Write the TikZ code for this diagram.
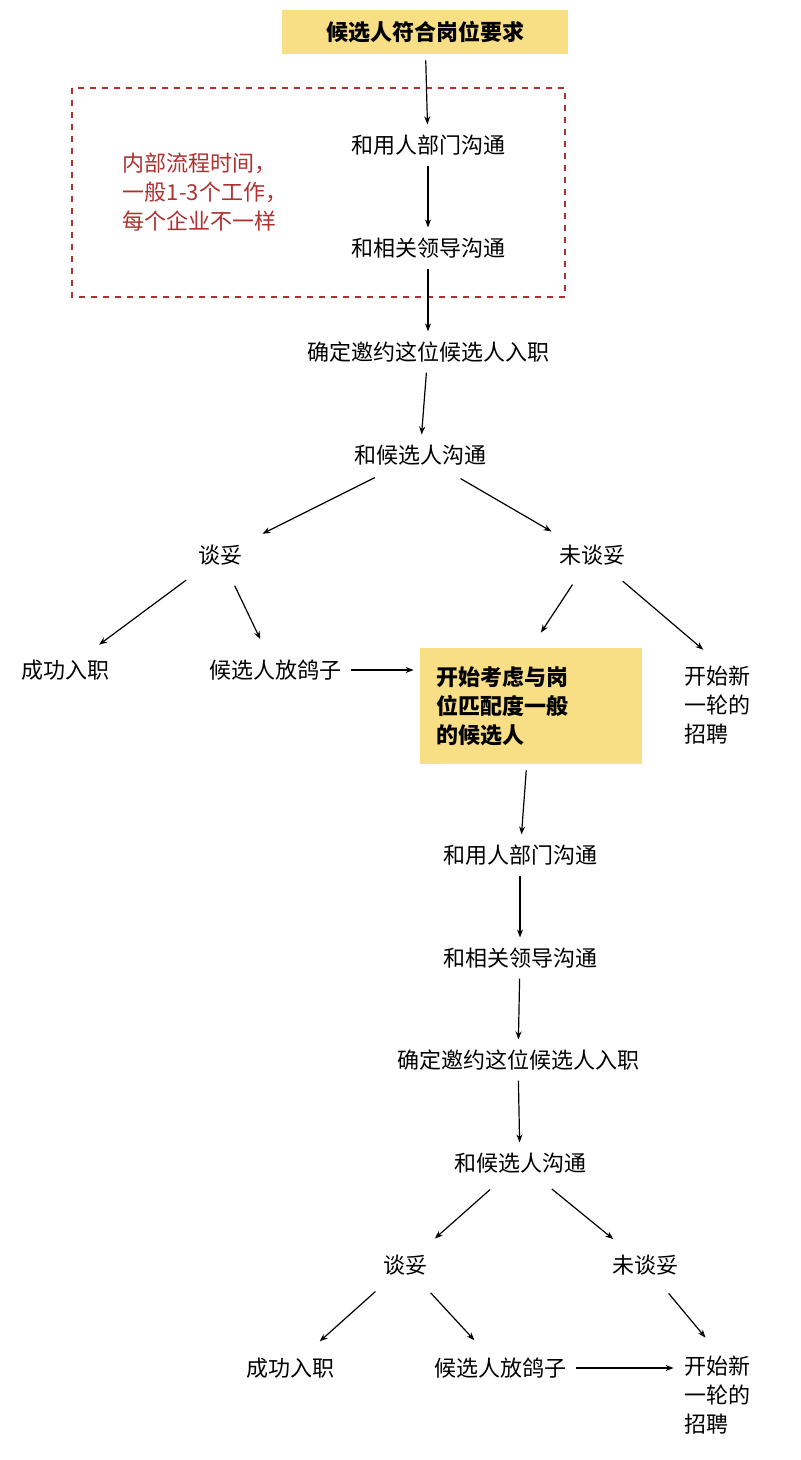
\documentclass[tikz,border=0pt]{standalone}
\usepackage{fontspec}
\setmainfont{Noto Sans CJK SC}
\usetikzlibrary{arrows.meta}
\definecolor{hilite}{HTML}{F8DE85}
\definecolor{notered}{HTML}{B03030}
\begin{document}
\begin{tikzpicture}[
    x=0.5pt, y=-0.5pt,
    every node/.style={font=\fontsize{11}{14.5}\selectfont, inner sep=2pt},
    keybox/.style={fill=hilite, font=\fontsize{11}{14.5}\selectfont\bfseries},
    arr/.style={-{Stealth[length=4pt]}, semithick, shorten <=3pt, shorten >=3pt},
    darr/.style={-{Stealth[length=4pt]}, semithick, shorten <=9pt, shorten >=9pt}
  ]
  \useasboundingbox (0,0) rectangle (800,1460);

  % Internal process frame
  \draw[notered, dashed, semithick] (72,88) rectangle (565,297);
  \node[notered, align=left] (note) at (205,192) {内部流程时间，\\一般1-3个工作，\\每个企业不一样};

  % First round
  \node[keybox, minimum width=143pt, minimum height=22pt] (start) at (425,32) {候选人符合岗位要求};
  \node (deptA) at (428,145) {和用人部门沟通};
  \node (leadA) at (428,248) {和相关领导沟通};
  \node (offerA) at (428,352) {确定邀约这位候选人入职};
  \node (talkA) at (420,455) {和候选人沟通};
  \node (okA) at (220,555) {谈妥};
  \node (failA) at (592,555) {未谈妥};
  \node (joinA) at (65,670) {成功入职};
  \node (flakeA) at (275,670) {候选人放鸽子};
  \node[keybox, align=left, minimum width=111pt, minimum height=58pt, text width=95pt] (backup) at (531,706) {开始考虑与岗\\位匹配度一般\\的候选人};
  \node[align=left] (newA) at (717,705) {开始新\\一轮的\\招聘};

  % Second round
  \node (deptB) at (520,855) {和用人部门沟通};
  \node (leadB) at (520,958) {和相关领导沟通};
  \node (offerB) at (518,1060) {确定邀约这位候选人入职};
  \node (talkB) at (520,1163) {和候选人沟通};
  \node (okB) at (405,1265) {谈妥};
  \node (failB) at (645,1265) {未谈妥};
  \node (joinB) at (290,1368) {成功入职};
  \node (flakeB) at (500,1368) {候选人放鸽子};
  \node[align=left] (newB) at (717,1395) {开始新\\一轮的\\招聘};

  % Arrows
  \draw[arr] (start) -- (deptA);
  \draw[arr] (deptA) -- (leadA);
  \draw[arr] (leadA) -- (offerA);
  \draw[arr] (offerA) -- (talkA);
  \draw[darr] (talkA) -- (okA);
  \draw[darr] (talkA) -- (failA);
  \draw[darr] (okA) -- (joinA);
  \draw[darr] (okA) -- (flakeA);
  \draw[darr] (failA) -- (backup.north);
  \draw[darr] (failA) -- (newA.north);
  \draw[arr] (flakeA) -- (backup.west |- flakeA);
  \draw[arr] (backup) -- (deptB);
  \draw[arr] (deptB) -- (leadB);
  \draw[arr] (leadB) -- (offerB);
  \draw[arr] (offerB) -- (talkB);
  \draw[darr] (talkB) -- (okB);
  \draw[darr] (talkB) -- (failB);
  \draw[darr] (okB) -- (joinB);
  \draw[darr] (okB) -- (flakeB);
  \draw[darr] (failB) -- (newB.north);
  \draw[arr] (flakeB) -- (newB.west |- flakeB);
\end{tikzpicture}
\end{document}
